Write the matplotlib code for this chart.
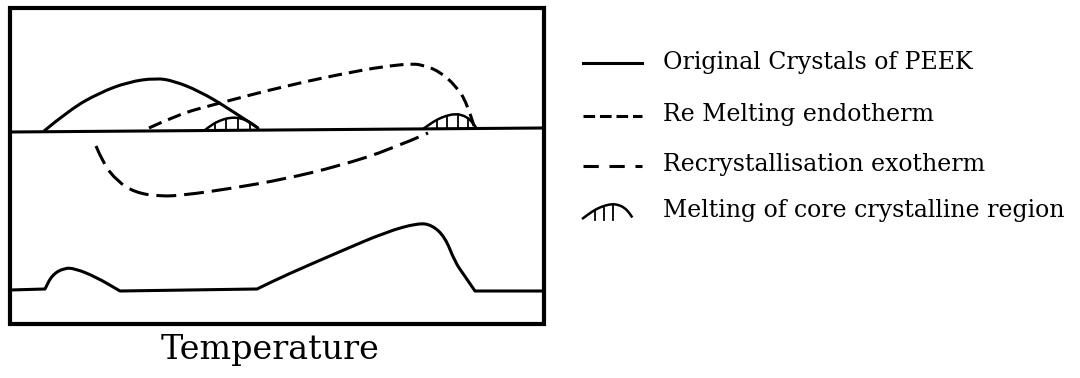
import numpy as np
import matplotlib
matplotlib.use("Agg")
import matplotlib.pyplot as plt
from matplotlib.path import Path
from matplotlib.patches import PathPatch, Rectangle

# schematic DSC traces, in image pixel coordinates (y grows downwards)
base_x = [10, 543]
base_y = [132, 128]

orig_x = [44, 70, 99, 128, 156, 174, 199, 228, 258]
orig_y = [131, 109.5, 93, 82, 78, 81, 91, 108, 128]

remelt_x = [149, 178, 214, 285, 356, 392, 410, 421, 439, 456, 467, 474]
remelt_y = [128, 114.5, 104.5, 86, 71, 65.5, 64, 64.5, 71, 86, 103, 126]

recryst_x = [96, 103, 117, 135, 160, 185, 231, 285, 339, 392, 428]
recryst_y = [146, 163, 181, 192.5, 196.5, 195, 188.5, 179, 166, 149, 133]

lower_x = [10, 45, 45, 52, 64, 75, 96, 120, 120, 257, 257, 286, 339, 386,
           418, 432, 445, 455, 464, 475, 475, 543]
lower_y = [290, 289, 289, 275, 268, 268.5, 277, 291, 291, 289, 289, 275, 252, 232,
           223, 225, 237, 262, 275, 291, 291, 291]

# melting of core crystalline region (hatched bumps)
bump1_x = [205, 212, 220, 228, 236, 243, 250, 256, 259]
bump1_y = [130, 124.5, 120.5, 118, 117.5, 119, 122, 126.5, 129]
bump1_hatch = [215, 226, 238, 250]

bump2_x = [423, 430, 438, 447, 455, 462, 468, 473, 476]
bump2_y = [129, 124, 119, 115.5, 114, 115, 118, 123, 127.5]
bump2_hatch = [437, 447, 458, 468]

legend_labels = ["Original Crystals of PEEK", "Re Melting endotherm",
                 "Recrystallisation exotherm", "Melting of core crystalline region"]
legend_y = [63, 114, 164, 210]

xlabel = "Temperature"

BLACK = "black"
LW = 2.2


def smooth(xs, ys):
    """quadratic bezier path through the midpoints of the given points"""
    pts = np.column_stack([xs, ys]).astype(float)
    verts = [pts[0]]
    codes = [Path.MOVETO]
    n = len(pts)
    for i in range(1, n - 1):
        end = pts[i + 1] if i == n - 2 else (pts[i] + pts[i + 1]) / 2
        verts += [pts[i], end]
        codes += [Path.CURVE3, Path.CURVE3]
    if n == 2:
        verts.append(pts[1])
        codes.append(Path.LINETO)
    return Path(verts, codes)


def draw_curve(ax, xs, ys, ls="-", lw=LW):
    ax.add_patch(PathPatch(smooth(xs, ys), fill=False, edgecolor=BLACK,
                           lw=lw, linestyle=ls, capstyle="butt", joinstyle="round"))


def draw_bump(ax, xs, ys, hatch_x, base_y_at):
    draw_curve(ax, xs, ys, lw=1.8)
    for hx in hatch_x:
        top = np.interp(hx, xs, ys)
        ax.plot([hx, hx], [top, base_y_at(hx)], color=BLACK, lw=1.3)


fig = plt.figure(figsize=(10.8, 3.78), dpi=100)
ax = fig.add_axes([0, 0, 1, 1])
ax.set_xlim(0, 1080)
ax.set_ylim(378, 0)
ax.axis("off")

# frame
ax.add_patch(Rectangle((10, 8), 534, 316, fill=False, edgecolor=BLACK, lw=3))

base_at = lambda x: np.interp(x, base_x, base_y)

ax.plot(base_x, base_y, color=BLACK, lw=LW)
draw_curve(ax, orig_x, orig_y)
draw_curve(ax, remelt_x, remelt_y, ls=(0, (4.5, 2.3)))
draw_curve(ax, recryst_x, recryst_y, ls=(0, (6.5, 2.6)))
draw_curve(ax, lower_x, lower_y)
draw_bump(ax, bump1_x, bump1_y, bump1_hatch, base_at)
draw_bump(ax, bump2_x, bump2_y, bump2_hatch, base_at)

# legend drawn by hand
lx0, lx1, tx = 583, 642, 663
ax.plot([lx0, lx1], [legend_y[0]] * 2, color=BLACK, lw=LW)
ax.plot([lx0, lx1], [legend_y[1] + 2] * 2, color=BLACK, lw=LW, ls=(0, (3.8, 1.6)))
ax.plot([lx0, lx1], [legend_y[2] + 2] * 2, color=BLACK, lw=LW, ls=(0, (5, 3.5)))

icon_x = np.array(bump2_x) - 423 + 582
icon_y = np.array(bump2_y) - 129 + legend_y[3] + 9
icon_x = 582 + (icon_x - 582) * 0.95
draw_curve(ax, icon_x, icon_y, lw=1.8)
for hx in [595, 604, 613]:
    ax.plot([hx, hx], [np.interp(hx, icon_x, icon_y), legend_y[3] + 10],
            color=BLACK, lw=1.3)

for y, lab in zip(legend_y, legend_labels):
    ax.text(tx, y, lab, family=["DejaVu Serif"], fontsize=17,
            ha="left", va="center", color=BLACK)

ax.text(270, 350, xlabel, family=["DejaVu Serif"], fontsize=24,
        ha="center", va="center", color=BLACK)

fig.savefig("out.png", dpi=100)
